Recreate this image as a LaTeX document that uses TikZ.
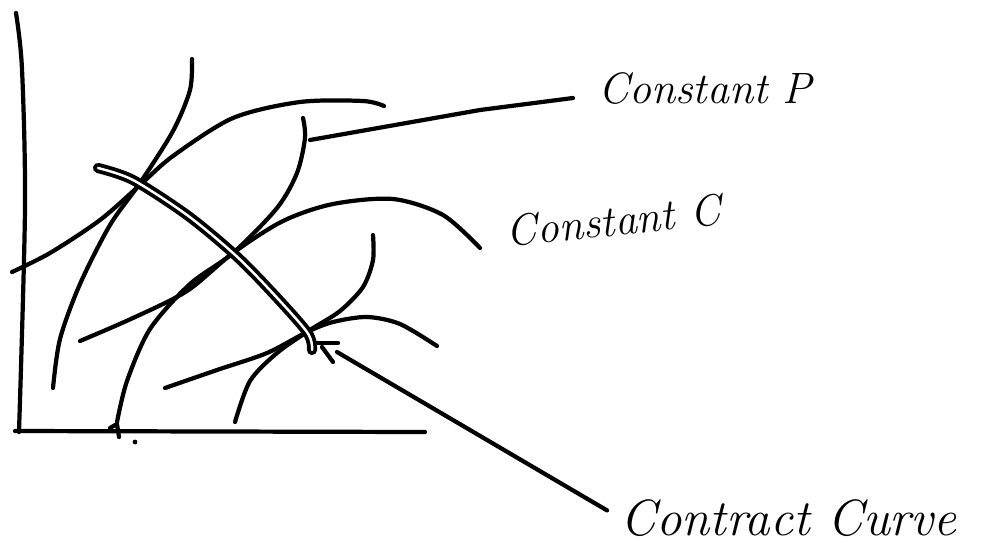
\documentclass[tikz,border=0pt]{standalone}
\begin{document}
\begin{tikzpicture}[x=0.02cm,y=-0.02cm,
  pen/.style={line width=2.4pt,line cap=round,line join=round},
  lbl/.style={font=\fontsize{25}{28}\selectfont\itshape,anchor=west,inner sep=0pt}]
\useasboundingbox (0,0) rectangle (999,545);
% axes
\draw[pen] plot[smooth] coordinates {(16,13) (22,69) (25,208) (19,432)};
\draw[pen] (15,431) -- (425,432);
% tick and dot
\draw[pen] (110,428) -- (117,424) -- (119,437);
\fill (135,442) circle (2.4);
% indifference curves
\draw[pen] plot[smooth] coordinates {(192,59) (190,90) (173,131) (140,183) (110,225) (80,284) (60,339) (53,388)};
\draw[pen] plot[smooth] coordinates {(12,272) (50,253) (100,220) (140,185) (173,156) (233,118) (300,102) (363,101) (384,106)};
\draw[pen] plot[smooth] coordinates {(303,118) (305,138) (297,173) (277,208) (233,253) (190,284) (150,329) (127,381) (117,422)};
\draw[pen] plot[smooth] coordinates {(80,341) (133,318) (187,291) (233,253) (283,221) (333,204) (393,199) (443,215) (480,248)};
\draw[pen] plot[smooth] coordinates {(373,235) (373,260) (363,287) (340,311) (310,330) (277,353) (250,381) (235,422)};
\draw[pen] plot[smooth] coordinates {(165,388) (217,370) (267,353) (307,332) (333,322) (367,317) (400,324) (437,346)};
% contract curve (double stroke)
\draw[line width=2.2pt,double=white,double distance=1.4pt,line cap=round] plot[smooth] coordinates {(98,168) (133,180) (187,215) (233,253) (267,287) (307,332) (312,350)};
\draw[pen] (315,343) -- (338,343);
\draw[pen] (322,347) -- (333,362);
% labels
\node[lbl] (cp) at (598,88) {Constant P};
\node[lbl,rotate=6] (cc) at (506,232) {Constant C};
\node[lbl,font=\fontsize{29}{33}\selectfont\itshape] (ccurve) at (620,518) {Contract Curve};
% pointers
\coordinate (p1) at (310,140);
\coordinate (p3) at (337,352);
\draw[pen] (p1) -- (480,110) -- (573,98);
\draw[pen,shorten >=0.3cm] (p3) -- (ccurve.west);
\end{tikzpicture}
\end{document}
